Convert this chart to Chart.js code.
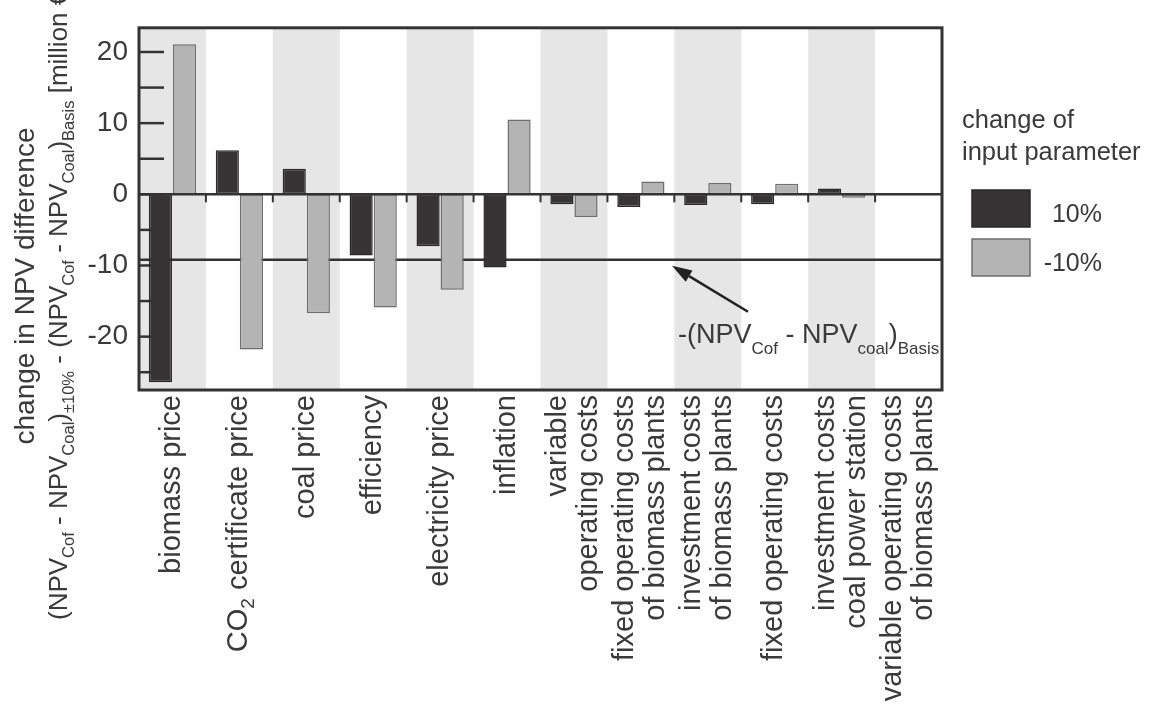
<!DOCTYPE html>
<html><head><meta charset="utf-8">
<script src="https://cdn.jsdelivr.net/npm/chart.js@4.4.1/dist/chart.umd.min.js"></script>
<style>html,body{margin:0;padding:0;background:#fefefe;} canvas{display:block;}</style>
</head><body>
<canvas id="c" width="1153" height="708"></canvas>
<script>
// ---------------- data ----------------
const categories = ["biomass price","CO₂ certificate price","coal price","efficiency","electricity price","inflation","variable operating costs","fixed operating costs of biomass plants","investment costs of biomass plants","fixed operating costs","investment costs coal power station","variable operating costs of biomass plants"];
const tickLabelLines = [["biomass price"],["CO₂ certificate price"],["coal price"],["efficiency"],["electricity price"],["inflation"],["variable","operating costs"],["fixed operating costs","of biomass plants"],["investment costs","of biomass plants"],["fixed operating costs"],["investment costs","coal power station"],["variable operating costs","of biomass plants"]];
const seriesNames = ["10%","-10%"];
const plus10  = [-26.4, 6.2, 3.6, -8.6, -7.3, -10.3, -1.4, -1.8, -1.5, -1.4, 0.8, 0.1];
const minus10 = [21.1, -21.8, -16.7, -15.9, -13.4, 10.5, -3.2, 1.8, 1.6, 1.5, -0.5, 0.2];
const yTicks = [-20,-10,0,10,20];
const yMinorTicks = [-25,-20,-15,-10,-5,0,5,10,15,20];
const basisLevel = -9.2;
const legendTitle = ["change of","input parameter"];
// rich text segments: [text, isSubscript]
const yTitleLine1 = [["change in NPV difference",0]];
const yTitleLine2 = [["(NPV",0],["Cof",1],[" - NPV",0],["Coal",1],[")",0],["±10%",1],[" - (NPV",0],["Cof",1],[" - NPV",0],["Coal",1],[")",0],["Basis",1],[" [million €]",0]];
const basisNote = [["-(NPV",0],["Cof",1],[" - NPV",0],["coal",1],[")",0],["Basis",1]];

// ---------------- helpers ----------------
const FAM = "'Liberation Sans', Arial, Helvetica, sans-serif";
const TXT = '#3a3a3a';
function toSegs(str){
  const out=[]; let buf='';
  for(const ch of str){ if(ch==='₂'){ if(buf) out.push([buf,0]); buf=''; out.push(['2',1]); } else buf+=ch; }
  if(buf) out.push([buf,0]); return out;
}
function segWidth(c, segs, mf, sf){
  let w=0; for(const [t,s] of segs){ c.font = s?sf:mf; w += c.measureText(t).width; } return w;
}
function drawSegs(c, segs, x, y, mf, sf, shift){
  c.textAlign='left'; c.textBaseline='alphabetic';
  for(const [t,s] of segs){ c.font = s?sf:mf; c.fillText(t, x, y + (s?shift:0)); x += c.measureText(t).width; }
}

const decor = {
  id:'decor',
  beforeDraw(chart){
    const c=chart.ctx; c.save(); c.fillStyle='#fefefe'; c.fillRect(0,0,chart.width,chart.height); c.restore();
  },
  beforeDatasetsDraw(chart){
    const {ctx:c, chartArea:a, scales:{x,y}} = chart;
    c.save();
    const hw = (x.getPixelForValue(1)-x.getPixelForValue(0))/2;
    c.fillStyle='#e6e6e6';
    for(let i=0;i<categories.length;i+=2){
      const px=x.getPixelForValue(i);
      c.fillRect(px-hw, a.top, 2*hw, a.bottom-a.top);
    }
    c.strokeStyle='#333'; c.lineWidth=2.5;
    for(const v of yMinorTicks){
      const py=y.getPixelForValue(v);
      c.beginPath(); c.moveTo(a.left,py); c.lineTo(a.left+25,py); c.stroke();
    }
    const yr=y.getPixelForValue(basisLevel);
    c.beginPath(); c.moveTo(a.left,yr); c.lineTo(a.right,yr); c.stroke();
    c.restore();
  },
  afterDatasetsDraw(chart){
    const {ctx:c, chartArea:a, scales:{x,y}} = chart;
    c.save();
    const y0=y.getPixelForValue(0);
    c.strokeStyle='#333'; c.lineWidth=2.5;
    c.beginPath(); c.moveTo(a.left,y0); c.lineTo(a.right,y0); c.stroke();
    c.lineWidth=2;
    for(let i=1;i<categories.length;i++){
      const bx=(x.getPixelForValue(i-1)+x.getPixelForValue(i))/2;
      c.beginPath(); c.moveTo(bx,y0); c.lineTo(bx,y0+8); c.stroke();
    }
    c.lineWidth=3;
    c.strokeRect(a.left,a.top,a.right-a.left,a.bottom-a.top);
    // arrow to basis line
    const yr=y.getPixelForValue(basisLevel);
    const tx=a.left+533, ty=yr+6, sx=a.left+609, sy=yr+52;
    const ang=Math.atan2(ty-sy, tx-sx);
    const hl=20, hwid=6.5;
    const bx=tx-hl*Math.cos(ang), by=ty-hl*Math.sin(ang);
    c.strokeStyle='#222'; c.fillStyle='#222'; c.lineWidth=2.5;
    c.beginPath(); c.moveTo(sx,sy); c.lineTo(bx,by); c.stroke();
    c.beginPath(); c.moveTo(tx,ty);
    c.lineTo(bx+hwid*Math.sin(ang), by-hwid*Math.cos(ang));
    c.lineTo(bx-hwid*Math.sin(ang), by+hwid*Math.cos(ang));
    c.closePath(); c.fill();
    c.fillStyle=TXT;
    drawSegs(c, basisNote, a.left+539, yr+83, "27px "+FAM, "17px "+FAM, 11);
    c.restore();
  },
  afterDraw(chart){
    const {ctx:c, chartArea:a, scales:{x,y}} = chart;
    c.save();
    c.fillStyle=TXT;
    // x labels (rotated)
    const mf="29px "+FAM, sf="19px "+FAM, lh=31;
    tickLabelLines.forEach((lines,i)=>{
      const cx=x.getPixelForValue(i);
      const k=lines.length;
      lines.forEach((ln,j)=>{
        const off=(j-(k-1)/2)*lh;
        const segs=toSegs(ln);
        const w=segWidth(c,segs,mf,sf);
        c.save(); c.translate(cx+off, a.bottom+5); c.rotate(-Math.PI/2);
        drawSegs(c, segs, -w, 7.5, mf, sf, 7);
        c.restore();
      });
    });
    // y title
    const tf1="28px "+FAM;
    const tf="26px "+FAM, tsf="16.5px "+FAM;
    let w1=segWidth(c,yTitleLine1,tf1,tsf);
    c.save(); c.translate(34, 286); c.rotate(-Math.PI/2);
    drawSegs(c, yTitleLine1, -w1/2, 0, tf1, tsf, 7); c.restore();
    c.save(); c.translate(67, 620); c.rotate(-Math.PI/2);
    drawSegs(c, yTitleLine2, 0, 0, tf, tsf, 7); c.restore();
    // legend
    const lx=a.right+20;
    c.font="25.5px "+FAM; c.textAlign='left'; c.textBaseline='alphabetic';
    c.fillText(legendTitle[0], lx, 128);
    c.fillText(legendTitle[1], lx, 160);
    chart.data.datasets.forEach((ds,i)=>{
      const by=190+i*49;
      c.fillStyle=ds.backgroundColor; c.fillRect(lx+10,by,58,37);
      c.strokeStyle=ds.borderColor; c.lineWidth=1.5; c.strokeRect(lx+10,by,58,37);
      c.fillStyle=TXT; c.font="25px "+FAM; c.textAlign='right';
      c.fillText(ds.label, lx+140, by+32);
    });
    c.restore();
  }
};

Chart.defaults.font.family = FAM;
new Chart(document.getElementById('c'), {
  type:'bar',
  data:{ labels:categories, datasets:[
    {label:seriesNames[0], data:plus10, backgroundColor:'#363435', borderColor:'#2a2929', borderWidth:1.5, borderSkipped:false, categoryPercentage:0.72, barPercentage:0.96},
    {label:seriesNames[1], data:minus10, backgroundColor:'#b4b4b4', borderColor:'#6e6e6e', borderWidth:1.5, borderSkipped:false, categoryPercentage:0.72, barPercentage:0.96}
  ]},
  options:{
    responsive:false, animation:false, devicePixelRatio:1,
    layout:{padding:{left:0, top:18, right:211, bottom:0}},
    plugins:{legend:{display:false}, tooltip:{enabled:false}, title:{display:false}},
    scales:{
      x:{grid:{display:false, drawTicks:false}, border:{display:false}, ticks:{display:false},
         afterFit(s){ s.height=318; }},
      y:{min:-27.5, max:23.4, grid:{display:false, drawTicks:false}, border:{display:false},
         ticks:{padding:11, color:TXT, font:{family:FAM, size:28}},
         afterBuildTicks(s){ s.ticks = yTicks.map(v=>({value:v})); },
         afterFit(s){ s.width=139; }}
    }
  },
  plugins:[decor]
});
</script>
</body></html>
